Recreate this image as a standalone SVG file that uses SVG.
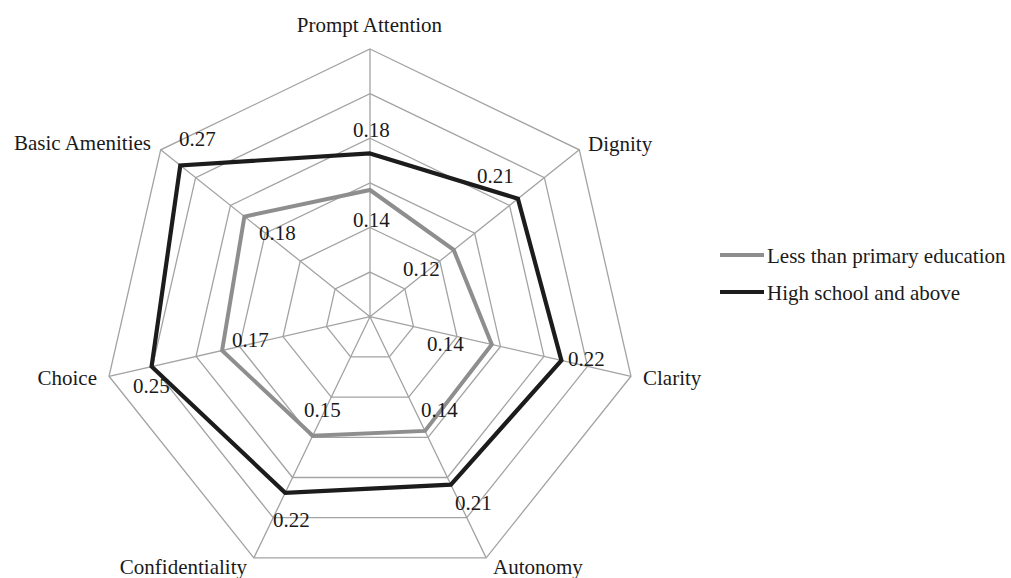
<svg xmlns="http://www.w3.org/2000/svg" width="1011" height="578" viewBox="0 0 1011 578">
<style>
text{font-family:"Liberation Serif","Times New Roman",serif;font-size:21px;fill:#1a1a1a}
.grid{fill:none;stroke:#a3a3a3;stroke-width:1.3}
.s1{fill:none;stroke:#8e8e8e;stroke-width:4;stroke-linejoin:miter}
.s2{fill:none;stroke:#1c1c1c;stroke-width:4.2;stroke-linejoin:miter}
</style>
<rect width="1011" height="578" fill="#fff"/>
<g id="grid">
<polygon class="grid" points="370,272.08 404.88,288.88 413.5,326.63 389.36,356.9 350.64,356.9 326.5,326.63 335.12,288.88"/>
<polygon class="grid" points="370,227.47 439.76,261.06 456.99,336.55 408.72,397.1 331.28,397.1 283.01,336.55 300.24,261.06"/>
<polygon class="grid" points="370,182.85 474.64,233.24 500.49,346.48 428.08,437.3 311.92,437.3 239.51,346.48 265.36,233.24"/>
<polygon class="grid" points="370,138.23 509.53,205.42 543.99,356.41 447.44,477.5 292.56,477.5 196.01,356.41 230.47,205.42"/>
<polygon class="grid" points="370,93.62 544.4,177.61 587.48,366.34 466.79,517.69 273.21,517.69 152.52,366.34 195.6,177.61"/>
<polygon class="grid" points="370,49 579.29,149.79 630.98,376.26 486.15,557.9 253.85,557.9 109.02,376.26 160.71,149.79"/>
<path class="grid" d="M370,316.7L370,49M370,316.7L579.29,149.79M370,316.7L630.98,376.26M370,316.7L486.15,557.9M370,316.7L253.85,557.9M370,316.7L109.02,376.26M370,316.7L160.71,149.79"/>
</g>
<g id="axis-labels">
<text x="369.5" y="32" text-anchor="middle">Prompt Attention</text>
<text x="588" y="151">Dignity</text>
<text x="643" y="385">Clarity</text>
<text x="493" y="574">Autonomy</text>
<text x="247" y="574" text-anchor="end">Confidentiality</text>
<text x="97" y="385" text-anchor="end">Choice</text>
<text x="151" y="150" text-anchor="end">Basic Amenities</text>
</g>
<g id="series-less-than-primary">
<polygon class="s1" points="370,190 453.7,249.9 491.8,344.5 425,430.9 312.7,435.7 222.1,350.5 244.4,216.6"/>
<text x="353" y="227.3">0.14</text>
<text x="403" y="276">0.12</text>
<text x="427" y="351">0.14</text>
<text x="421" y="417">0.14</text>
<text x="304" y="417">0.15</text>
<text x="232" y="347">0.17</text>
<text x="259" y="240">0.18</text>
</g>
<g id="series-high-school">
<polygon class="s2" points="370,153.4 517.9,198.7 561.4,360.4 450.9,484.7 285.2,492.8 151.6,366.5 180.3,165.4"/>
<text x="353" y="137.3">0.18</text>
<text x="477" y="183">0.21</text>
<text x="568" y="365.7">0.22</text>
<text x="455" y="510">0.21</text>
<text x="273" y="526.7">0.22</text>
<text x="133" y="393">0.25</text>
<text x="179" y="145.7">0.27</text>
</g>
<g id="legend">
<line x1="720" y1="255" x2="764" y2="255" stroke="#8e8e8e" stroke-width="4"/>
<text x="767" y="263">Less than primary education</text>
<line x1="720" y1="292" x2="764" y2="292" stroke="#1c1c1c" stroke-width="4.2"/>
<text x="767" y="300">High school and above</text>
</g>
</svg>
